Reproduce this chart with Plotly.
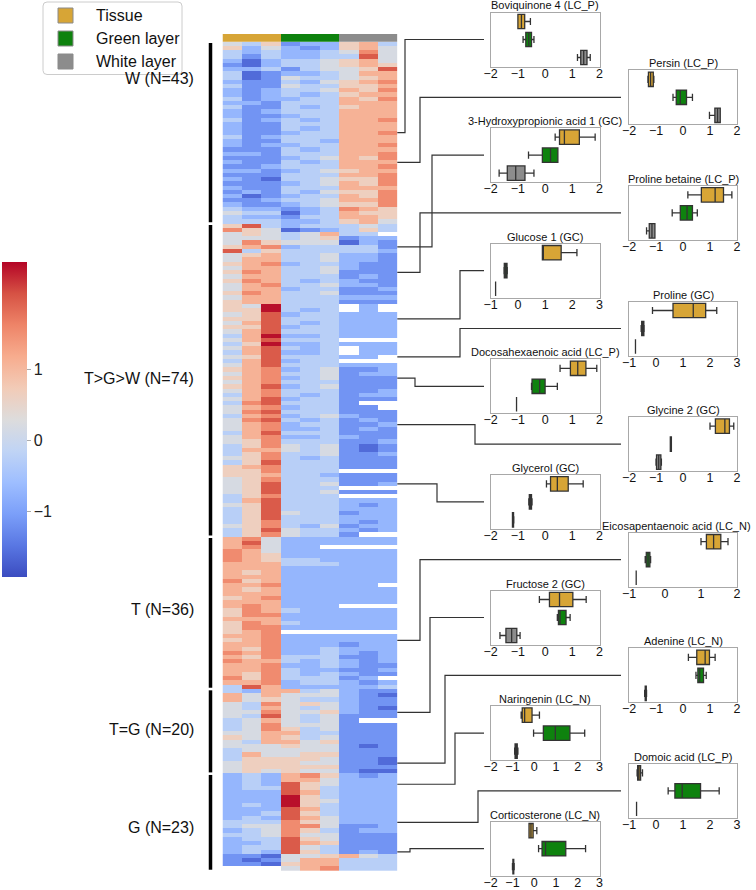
import plotly.graph_objects as go

# ---------------- data ----------------
columns = ["Tissue 1", "Tissue 2", "Tissue 3", "Green 1", "Green 2", "Green 3", "White 1", "White 2", "White 3"]
column_layer = [0, 0, 0, 1, 1, 1, 2, 2, 2]
layers = ["Tissue", "Green layer", "White layer"]
group_names = ["W (N=43)", "T>G>W (N=74)", "T (N=36)", "T=G (N=20)", "G (N=23)"]
group_sizes = [43, 74, 36, 20, 23]

# Heatmap cells (z-score level), one string per metabolite row.
# digit d -> -1.6 + 0.45*d ; '.' = missing value
heat_W = [
    "435 122 563", "524 212 564", "323 223 474", "313 223 384", "202 334 564",
    "102 334 565", "223 134 458", "301 223 466", "301 433 456", "211 324 567",
    "311 433 556", "212 334 657", "212 323 566", "312 233 657", "221 333 666",
    "311 323 566", "212 333 666", "211 233 666", "312 323 667", "211 333 666",
    "211 323 666", "211 233 667", "312 333 666", "211 332 666", "212 233 667",
    "111 323 666", "221 333 667", "111 234 657", "211 323 666", "112 333 667",
    "221 234 566", "111 333 667", "210 334 557", "111 234 657", "211 333 666",
    "121 324 557", "201 233 657", "112 334 667", "211 234 557", "322 123 765",
    "433 023 655", "322 133 665", "333 223 564",
]
heat_TGW = [
    "583 233 343", "754 012 353", "454 346 33.", "444 345 122", "475 444 021",
    "567 233 331", "835 333 332", "456 334 221", "466 334 221", "567 233 211",
    "466 334 211", "576 334 111", "466 333 121", "576 323 211", "467 334 221",
    "466 233 112", "576 334 111", "466 333 222", "566 333 111", "549 333 .2.",
    "559 323 .2.", "458 233 222", "558 333 222", "468 323 222", "558 233 222",
    "468 333 222", "369 223 222", "468 333 ...", "359 223 222", "468 323 .22",
    "368 223 .22", "458 333 22.", "368 233 ...", "468 333 222", "567 234 112",
    "467 334 122", "567 234 111", "467 333 111", "568 234 111", "467 333 112",
    "367 323 122", "468 233 111", "378 333 1..", "467 233 11.", "478 333 111",
    "367 234 211", "478 323 121", "467 233 112", "467 223 121", "368 333 111",
    "467 223 211", "457 333 112", "357 434 101", "366 434 101", "357 334 112",
    "457 323 111", "358 333 111", "567 333 111", "557 333 ...", "556 332 111",
    "457 333 111", "458 334 112", "458 333 ...", "458 334 111", "357 333 ...",
    "368 333 222", "458 333 212", "358 333 222", "358 433 122", "358 333 222",
    "357 333 212", "457 324 122", "358 433 212", "357 433 1..",
]
heat_T = [
    "674 222 222", "684 222 222", "674 22. ...", "764 222 222", "765 222 222",
    "765 332 222", "666 333 222", "666 222 222", "656 222 222", "666 222 222",
    "756 222 222", "667 222 22.", "656 222 222", "666 222 222", "567 222 222",
    "666 222 222", "676 222 ...", "576 322 222", "577 222 222", "666 222 222",
    "576 322 222", "577 222 222", "567 ... ...", "667 222 222", "567 222 222",
    "667 222 122", "657 223 222", "767 223 212", "657 333 112", "766 323 212",
    "667 223 211", "667 322 112", "657 323 211", "757 333 12.", "667 233 212",
    "386 222 223",
]
heat_TG = [
    "326 634 211", "646 444 210", "645 433 211", "437 454 211", "436 434 210",
    "447 445 211", "438 434 111", "346 434 1..", "347 444 111", "347 534 111",
    "446 633 111", "546 534 111", "436 645 111", "444 544 101", "344 444 111",
    "364 455 111", "355 554 110", "455 544 110", "455 555 111", "454 544 100",
]
heat_G = [
    "232 675 212", "232 664 222", "232 854 222", "233 853 222", "222 863 222",
    "222 953 222", "222 954 222", "232 953 222", "222 863 222", "223 853 222",
    "232 864 222", "333 754 222", "344 774 112", "234 753 122", "334 744 111",
    "233 854 111", "223 865 111", "233 843 111", "232 853 121", "110 445 643",
    "101 466 333", "110 566 333", "... 467 333",
]

# Box plots of selected metabolites
box_names = [
    "Boviquinone 4 (LC_P)", "Persin (LC_P)", "3-Hydroxypropionic acid 1 (GC)", "Proline betaine (LC_P)",
    "Glucose 1 (GC)", "Proline (GC)", "Docosahexaenoic acid (LC_P)", "Glycine 2 (GC)", "Glycerol (GC)",
    "Eicosapentaenoic acid (LC_N)", "Fructose 2 (GC)", "Adenine (LC_N)", "Naringenin (LC_N)",
    "Domoic acid (LC_P)", "Corticosterone (LC_N)",
]
box_heat_row = [21, 28, 48, 54, 65, 74, 79, 90, 104, 141, 158, 170, 175, 184, 191]
box_xrange = [(-2, 2), (-2, 2), (-2, 2), (-2, 2), (-1, 3), (-1, 3), (-2, 2), (-2, 2), (-2, 2),
              (-1, 2), (-2, 2), (-2, 2), (-2, 3), (-1, 3), (-2, 3)]
# [lowerfence, q1, median, q3, upperfence]
box_tissue = [
    [-1.0, -1.0, -0.87, -0.75, -0.54], [-1.3, -1.28, -1.2, -1.1, -1.08], [0.37, 0.53, 0.71, 1.26, 1.84],
    [0.18, 0.68, 1.19, 1.5, 1.81], [0.9, 0.9, 0.92, 1.59, 2.17], [-0.13, 0.63, 1.38, 1.84, 2.25],
    [0.55, 0.93, 1.2, 1.5, 1.9], [1.0, 1.2, 1.55, 1.72, 1.88], [0.05, 0.2, 0.45, 0.85, 1.4],
    [1.0, 1.15, 1.35, 1.55, 1.75], [-0.21, 0.16, 0.53, 1.02, 1.51], [0.2, 0.51, 0.82, 0.98, 1.19],
    [-0.6, -0.55, -0.44, -0.1, 0.24], [-0.7, -0.68, -0.63, -0.57, -0.5], [-0.24, -0.24, -0.15, -0.05, 0.12],
]
box_green = [
    [-0.81, -0.71, -0.6, -0.5, -0.41], [-0.37, -0.25, -0.1, 0.13, 0.35], [-0.61, -0.1, 0.2, 0.47, 0.47],
    [-0.4, -0.1, 0.15, 0.35, 0.53], [-0.51, -0.5, -0.45, -0.4, -0.39], [-0.55, -0.53, -0.49, -0.45, -0.44],
    [-0.5, -0.48, -0.2, 0.0, 0.45], [-0.47, -0.47, -0.45, -0.43, -0.43], [-0.6, -0.58, -0.55, -0.5, -0.48],
    [-0.55, -0.52, -0.47, -0.42, -0.4], [0.45, 0.49, 0.55, 0.77, 0.92], [0.48, 0.55, 0.62, 0.76, 0.86],
    [-0.03, 0.42, 0.97, 1.64, 2.32], [0.45, 0.7, 0.97, 1.65, 2.34], [0.2, 0.36, 0.52, 1.45, 2.36],
]
box_white = [
    [1.19, 1.31, 1.42, 1.54, 1.66], [0.98, 1.18, 1.28, 1.38, 1.38], [-1.69, -1.39, -1.08, -0.74, -0.41],
    [-1.35, -1.25, -1.15, -1.04, -1.04], [-0.82, -0.82, -0.82, -0.82, -0.82], [-0.76, -0.76, -0.76, -0.76, -0.76],
    [-1.05, -1.05, -1.05, -1.05, -1.05], [-1.0, -0.98, -0.9, -0.82, -0.8], [-1.2, -1.2, -1.18, -1.16, -1.15],
    [-0.8, -0.8, -0.8, -0.8, -0.8], [-1.66, -1.44, -1.23, -1.04, -0.92], [-1.42, -1.4, -1.38, -1.36, -1.35],
    [-0.9, -0.88, -0.83, -0.78, -0.75], [-0.72, -0.72, -0.72, -0.72, -0.72], [-1.0, -0.98, -0.96, -0.94, -0.92],
]

# ---------------- style / layout ----------------
W_PX, H_PX = 756, 890
def px(x):
    return x / W_PX
def py(y):
    return 1 - y / H_PX

ARIAL = "Liberation Sans, Arial, sans-serif"
layer_colors = ["#D7A536", "#0E820E", "#8C8C8C"]
coolwarm = [[0.0, "#3b4cc0"], [0.1, "#5977e3"], [0.2, "#7b9ff9"], [0.3, "#9ebeff"], [0.4, "#c0d4f5"],
            [0.5, "#dddcdc"], [0.6, "#f2cbb7"], [0.7, "#f7ac8e"], [0.8, "#ee8468"], [0.9, "#d65244"],
            [1.0, "#b40426"]]

def level(c):
    return None if c == "." else -1.6 + 0.45 * int(c)

z = []
for rows, n in zip([heat_W, heat_TGW, heat_T, heat_TG, heat_G], group_sizes):
    assert len(rows) == n
    for r in rows:
        cells = r.replace(" ", "")
        z.append([level(c) for c in cells])
n_rows = len(z)

fig = go.Figure()
NB = "\u00a0"
# main heatmap
fig.add_trace(go.Heatmap(
    z=z, x=list(range(len(columns))), y=list(range(n_rows)),
    colorscale=coolwarm, zmin=-1.92, zmax=2.52, xaxis="x", yaxis="y", hoverongaps=False,
    colorbar=dict(x=px(2), xanchor="left", y=py(419.5), yanchor="middle", len=315 / H_PX,
                  thickness=25, outlinewidth=0, tickvals=[-1, 0, 1], ticks="outside", ticklen=4,
                  tickprefix=NB * 4, tickcolor="#aaaaaa",
                  tickfont=dict(size=16, family=ARIAL, color="#222"), xpad=0, ypad=0),
))
# layer strip on top
fig.add_trace(go.Heatmap(
    z=[column_layer], x=list(range(len(columns))), y=[0], zmin=0, zmax=2, showscale=False,
    colorscale=[[0, layer_colors[0]], [1 / 3, layer_colors[0]], [1 / 3, layer_colors[1]],
                [2 / 3, layer_colors[1]], [2 / 3, layer_colors[2]], [1, layer_colors[2]]],
    xaxis="x2", yaxis="y2",
))

HX0, HX1, HY0, HY1 = 222.5, 397.3, 41.7, 871.0
layout = dict(
    width=W_PX, height=H_PX, margin=dict(l=0, r=0, t=0, b=0, autoexpand=False),
    paper_bgcolor="white", plot_bgcolor="white", showlegend=False,
    xaxis=dict(domain=[px(HX0), px(HX1)], range=[-0.5, 8.5], visible=False, anchor="y"),
    yaxis=dict(domain=[py(HY1), py(HY0)], range=[n_rows - 0.5, -0.5], visible=False, anchor="x"),
    xaxis2=dict(domain=[px(HX0), px(HX1)], range=[-0.5, 8.5], visible=False, anchor="y2"),
    yaxis2=dict(domain=[py(41.7), py(34)], range=[-0.5, 0.5], visible=False, anchor="x2"),
)

shapes = []
annotations = []

# legend (drawn box)
lx0, ly0, lx1, ly1, rr = 43, 2, 182, 74.5, 4
shapes.append(dict(type="path", xref="paper", yref="paper",
                   path=(f"M {px(lx0 + rr)},{py(ly0)} L {px(lx1 - rr)},{py(ly0)} "
                         f"Q {px(lx1)},{py(ly0)} {px(lx1)},{py(ly0 + rr)} L {px(lx1)},{py(ly1 - rr)} "
                         f"Q {px(lx1)},{py(ly1)} {px(lx1 - rr)},{py(ly1)} L {px(lx0 + rr)},{py(ly1)} "
                         f"Q {px(lx0)},{py(ly1)} {px(lx0)},{py(ly1 - rr)} L {px(lx0)},{py(ly0 + rr)} "
                         f"Q {px(lx0)},{py(ly0)} {px(lx0 + rr)},{py(ly0)} Z"),
                   line=dict(color="#cccccc", width=1), fillcolor="white"))
for j in range(3):
    cy = 15.5 + 23 * j
    shapes.append(dict(type="rect", xref="paper", yref="paper", x0=px(58), x1=px(73),
                       y0=py(cy + 7.5), y1=py(cy - 7.5), fillcolor=layer_colors[j],
                       line=dict(color="#8a8a8a", width=1)))
    annotations.append(dict(text=layers[j], xref="paper", yref="paper", x=px(94), y=py(cy),
                            xanchor="left", yanchor="middle", showarrow=False,
                            font=dict(size=16, family=ARIAL, color="#111")))

# group bars and labels
label_rows = [8.3, 79.2, 133.6, 162.0, 185.3]
start = 0
for g, n in enumerate(group_sizes):
    shapes.append(dict(type="line", xref="paper", yref="y", x0=px(210.5), x1=px(210.5),
                       y0=start - 0.5 + 0.3, y1=start + n - 0.5 - 0.3, line=dict(color="black", width=3.5)))
    annotations.append(dict(text=group_names[g], xref="paper", yref="y", x=px(196), y=label_rows[g],
                            xanchor="right", yanchor="middle", showarrow=False,
                            font=dict(size=16, family=ARIAL, color="#111")))
    start += n

# box plot subplots
elbow_x = [405, 420, 432, 420, 460, 460, 415, 475, 437, 420, 430, 445, 455, 478, 410]
row_px = (HY1 - HY0) / n_rows
for k in range(len(box_names)):
    ax = k + 3
    side = k % 2
    top = 12.5 + 57.8 * k
    x0, x1 = (490.7, 599.5) if side == 0 else (629.0, 737.0)
    lo, hi = box_xrange[k]
    layout[f"xaxis{ax}"] = dict(domain=[px(x0), px(x1)], anchor=f"y{ax}", range=[lo, hi], dtick=1,
                                showline=True, mirror=True, linecolor="#a8a8a8", linewidth=1,
                                showgrid=False, zeroline=False, ticks="", automargin=False,
                                ticklabelstandoff=-5,
                                tickfont=dict(size=12.5, family=ARIAL, color="#111"))
    layout[f"yaxis{ax}"] = dict(domain=[py(top + 54), py(top)], anchor=f"x{ax}", range=[2.5, -0.5],
                                showline=True, mirror=True, linecolor="#a8a8a8", linewidth=1,
                                showgrid=False, zeroline=False, showticklabels=False, ticks="",
                                automargin=False)
    for j, stats in enumerate([box_tissue[k], box_green[k], box_white[k]]):
        lf, q1, md, q3, uf = stats
        fig.add_trace(go.Box(y=[j], q1=[q1], median=[md], q3=[q3], lowerfence=[lf], upperfence=[uf],
                             orientation="h", width=0.8, fillcolor=layer_colors[j],
                             line=dict(color="#333333", width=1.3), whiskerwidth=0.5,
                             xaxis=f"x{ax}", yaxis=f"y{ax}", showlegend=False, boxpoints=False))
    wide_right = side == 1 and len(box_names[k]) > 24
    annotations.append(dict(text=box_names[k], xref="paper", yref="paper",
                            x=px(753) if wide_right else px((x0 + x1) / 2),
                            y=py(top - 7), xanchor="right" if wide_right else "center",
                            yanchor="middle", showarrow=False,
                            font=dict(size=11, family=ARIAL, color="#111")))
    # connector from heatmap row to box plot
    ys = HY0 + (box_heat_row[k] + 0.5) * row_px
    yt = top + 27
    xt = 484 if side == 0 else 621
    ex = elbow_x[k]
    path = (f"M {px(HX1)},{py(ys)} L {px(ex)},{py(ys)} L {px(ex)},{py(yt)} L {px(xt)},{py(yt)}")
    shapes.append(dict(type="path", xref="paper", yref="paper", path=path,
                       line=dict(color="#333333", width=1.2)))

layout["shapes"] = shapes
layout["annotations"] = annotations
fig.update_layout(**layout)
fig.write_html("out.html")
